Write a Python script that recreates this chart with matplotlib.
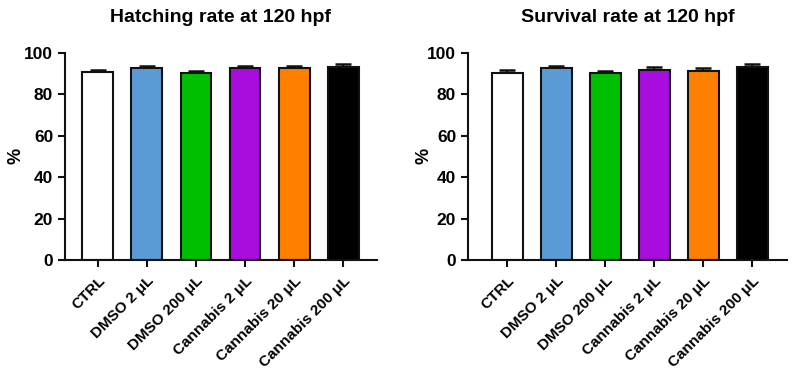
import matplotlib
matplotlib.use('Agg')
import matplotlib.pyplot as plt
import numpy as np

plt.rcParams['font.family'] = ['Liberation Sans', 'DejaVu Sans']
plt.rcParams['font.weight'] = 'bold'

# data
groups = ['CTRL', 'DMSO 2 \u03bcL', 'DMSO 200 \u03bcL', 'Cannabis 2 \u03bcL',
          'Cannabis 20 \u03bcL', 'Cannabis 200 \u03bcL']
colors = ['#FFFFFF', '#5B9BD5', '#00BF00', '#A90CDF', '#FF8000', '#000000']

hatching = [90.8, 92.4, 90.2, 92.4, 92.4, 93.1]
hatching_err = [1.0, 1.2, 1.1, 1.2, 1.2, 1.6]

survival = [90.4, 92.4, 90.2, 91.8, 91.3, 93.1]
survival_err = [1.2, 1.2, 1.1, 1.3, 1.1, 1.6]

fig = plt.figure(figsize=(7.94, 3.79), dpi=100)
ax1 = fig.add_axes([65/794, 1-260/379, (377-65)/794, (260-52.7)/379])
ax2 = fig.add_axes([468/794, 1-260/379, (787-468)/794, (260-52.7)/379])


def draw(ax, vals, errs, title, xlim, label_x):
    x = np.arange(len(groups))
    ax.bar(x, vals, width=0.63, color=colors, edgecolor='#111111', linewidth=1.5, zorder=2)
    ax.errorbar(x, vals, yerr=[np.zeros(len(errs)), errs], fmt='none', ecolor='#111111',
                elinewidth=1.5, capsize=5.5, capthick=1.8, zorder=1)
    ax.set_xlim(*xlim)
    ax.set_ylim(0, 100)
    ax.set_yticks([0, 20, 40, 60, 80, 100])
    ax.set_xticks(x)
    ax.set_xticklabels(groups, rotation=45, ha='right', rotation_mode='anchor',
                       fontsize=11, fontweight='bold')
    ax.tick_params(axis='y', labelsize=12.5)
    ax.tick_params(axis='both', width=1.5, length=5, color='#111111')
    ax.tick_params(axis='x', pad=5)
    for lbl in ax.get_yticklabels():
        lbl.set_fontweight('bold')
    for side in ['top', 'right']:
        ax.spines[side].set_visible(False)
    for side in ['left', 'bottom']:
        ax.spines[side].set_linewidth(1.5)
        ax.spines[side].set_color('#111111')
    ax.set_ylabel('%', fontsize=13, fontweight='bold')
    ax.yaxis.set_label_coords(label_x, 0.5)
    ax.set_title(title, fontsize=14, fontweight='bold', pad=22)


draw(ax1, hatching, hatching_err, 'Hatching rate at 120 hpf', (-0.67, 5.69), -0.13)
draw(ax2, survival, survival_err, 'Survival rate at 120 hpf', (-0.8, 5.71), -0.11)

fig.savefig('out.png', dpi=100)
